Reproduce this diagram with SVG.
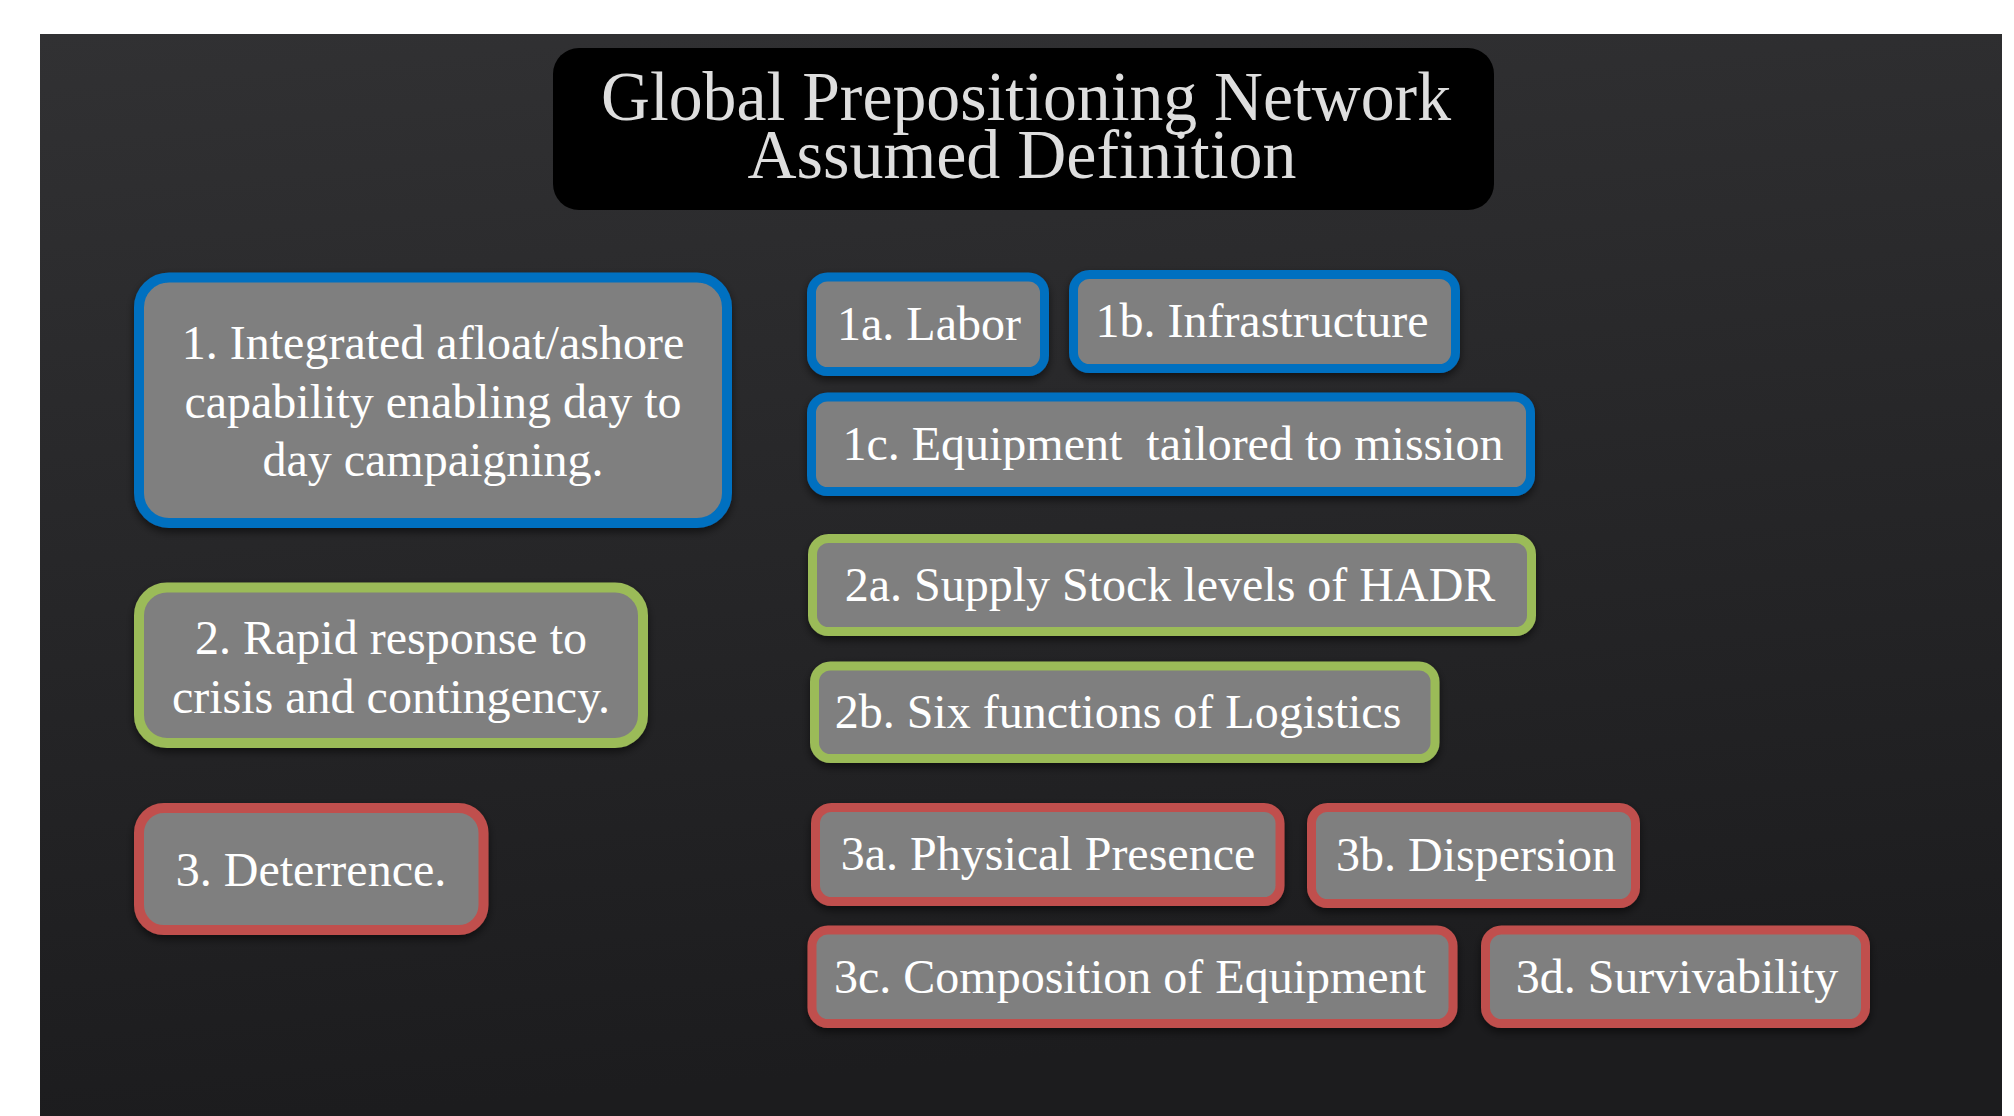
<svg xmlns="http://www.w3.org/2000/svg" width="2014" height="1116" viewBox="0 0 2014 1116">
  <defs>
    <linearGradient id="bg" x1="0" y1="0" x2="0.15" y2="1">
      <stop offset="0" stop-color="#313133"/>
      <stop offset="1" stop-color="#1c1c1e"/>
    </linearGradient>
    <filter id="sh" x="-10%" y="-10%" width="120%" height="130%">
      <feDropShadow dx="0" dy="4" stdDeviation="4" flood-color="#000" flood-opacity="0.55"/>
    </filter>
  </defs>
  <style>
    .box { fill: #7f7f7f; filter: url(#sh); }
    .p { stroke-width: 10; }
    .c { stroke-width: 9; }
    .blue { stroke: #0070c0; }
    .green { stroke: #9bbb59; }
    .red { stroke: #c0504d; }
    .t { font-family: "Liberation Serif", "Times New Roman", serif; font-size: 48px; fill: #ffffff; text-anchor: middle; }
    .title { font-family: "Liberation Serif", "Times New Roman", serif; font-size: 69px; fill: #dedede; text-anchor: middle; }
  </style>
  <rect x="0" y="0" width="2014" height="1116" fill="#ffffff"/>
  <rect x="40" y="34" width="1962" height="1082" fill="url(#bg)"/>

  <g id="title">
    <rect x="553" y="48" width="941" height="162" rx="26" fill="#000000"/>
    <text class="title" x="1026" y="120" textLength="850" lengthAdjust="spacingAndGlyphs">Global Prepositioning Network</text>
    <text class="title" x="1022" y="178" textLength="549" lengthAdjust="spacingAndGlyphs">Assumed Definition</text>
  </g>

  <g id="connectors"></g>

  <g id="node1">
    <rect class="box p blue" x="139" y="277.5" width="588" height="245.5" rx="30"/>
    <text class="t" x="433" y="359">1. Integrated afloat/ashore</text>
    <text class="t" x="433" y="417.5">capability enabling day to</text>
    <text class="t" x="433" y="476">day campaigning.</text>
  </g>
  <g id="node2">
    <rect class="box p green" x="139" y="587.5" width="504" height="155.5" rx="28"/>
    <text class="t" x="391" y="654">2. Rapid response to</text>
    <text class="t" x="391" y="713">crisis and contingency.</text>
  </g>
  <g id="node3">
    <rect class="box p red" x="139" y="808" width="344.5" height="122" rx="25"/>
    <text class="t" x="311" y="886">3. Deterrence.</text>
  </g>

  <g id="node1a">
    <rect class="box c blue" x="811.5" y="277" width="233" height="94.5" rx="16"/>
    <text class="t" x="929" y="339.5">1a. Labor</text>
  </g>
  <g id="node1b">
    <rect class="box c blue" x="1073.5" y="274.5" width="382" height="94" rx="16"/>
    <text class="t" x="1262" y="337">1b. Infrastructure</text>
  </g>
  <g id="node1c">
    <rect class="box c blue" x="811.5" y="397" width="719" height="94.5" rx="16"/>
    <text class="t" x="1173" y="460" xml:space="preserve">1c. Equipment  tailored to mission</text>
  </g>
  <g id="node2a">
    <rect class="box c green" x="812.5" y="538.5" width="719" height="93" rx="16"/>
    <text class="t" x="1170" y="600.5">2a. Supply Stock levels of HADR</text>
  </g>
  <g id="node2b">
    <rect class="box c green" x="814.5" y="666" width="620.5" height="92.5" rx="16"/>
    <text class="t" x="1118" y="727.5">2b. Six functions of Logistics</text>
  </g>
  <g id="node3a">
    <rect class="box c red" x="815.5" y="807.5" width="464.5" height="94" rx="16"/>
    <text class="t" x="1048" y="870">3a. Physical Presence</text>
  </g>
  <g id="node3b">
    <rect class="box c red" x="1311.5" y="807.5" width="324" height="96" rx="16"/>
    <text class="t" x="1476" y="871">3b. Dispersion</text>
  </g>
  <g id="node3c">
    <rect class="box c red" x="812" y="930" width="641" height="93.5" rx="16"/>
    <text class="t" x="1130" y="992.5">3c. Composition of Equipment</text>
  </g>
  <g id="node3d">
    <rect class="box c red" x="1485.5" y="930" width="380" height="93.5" rx="16"/>
    <text class="t" x="1677" y="992.5">3d. Survivability</text>
  </g>
</svg>
